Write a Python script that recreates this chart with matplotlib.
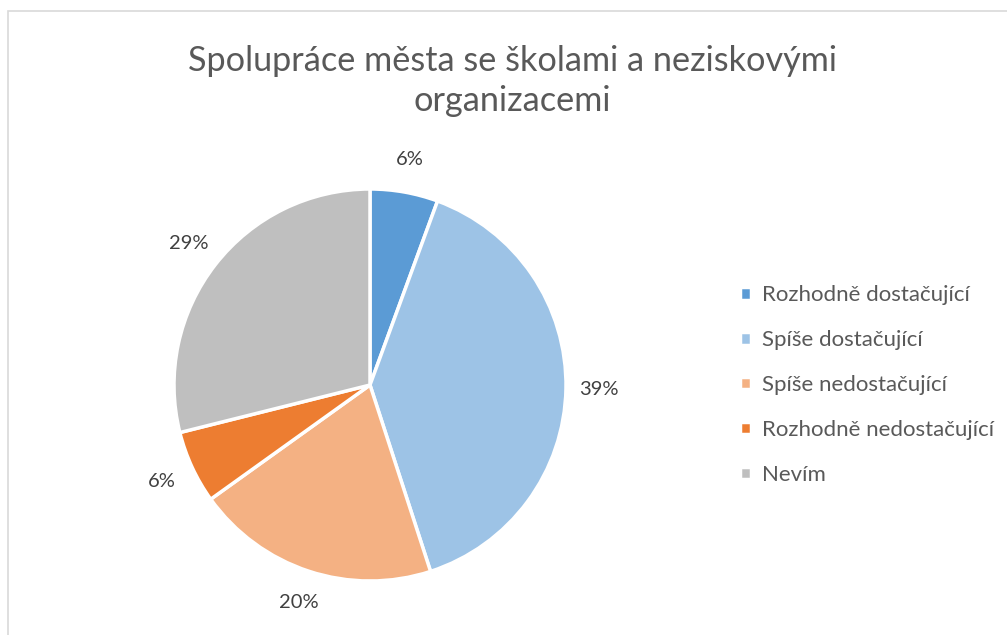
import matplotlib
matplotlib.use("Agg")
import matplotlib.pyplot as plt
from matplotlib.patches import Rectangle

categories = ["Rozhodně dostačující", "Spíše dostačující", "Spíše nedostačující",
              "Rozhodně nedostačující", "Nevím"]
values = [5.6, 39.4, 20.1, 6.0, 28.9]
colors = ["#5B9BD5", "#9DC3E6", "#F4B183", "#ED7D31", "#BFBFBF"]

plt.rcParams['font.family'] = ['Lato', 'DejaVu Sans']

W, H = 1007, 635
fig = plt.figure(figsize=(W / 100, H / 100), dpi=100)

# chart border (only top and left visible in the crop)
fig.patches.append(Rectangle((8 / W, -0.1), 1.2, (H - 11) / H + 0.1, transform=fig.transFigure,
                             fill=False, edgecolor="#D9D9D9", linewidth=1.2))

cx, cy, r = 370, 385, 196
ax = fig.add_axes([(cx - r) / W, (H - cy - r) / H, 2 * r / W, 2 * r / H])
wedges, texts, autotexts = ax.pie(values, colors=colors, startangle=90, counterclock=False,
                                  autopct=lambda p: f"{p:.0f}%", pctdistance=1.17,
                                  wedgeprops=dict(edgecolor="white", linewidth=2.5),
                                  textprops=dict(color="#404040", fontsize=14.5))
ax.set_xlim(-1, 1)
ax.set_ylim(-1, 1)

fig.text(512 / W, 1 - 61 / H, "Spolupráce města se školami a neziskovými", ha="center", va="center",
         fontsize=24.7, color="#595959")
fig.text(512 / W, 1 - 101 / H, "organizacemi", ha="center", va="center",
         fontsize=24.7, color="#595959")

leg = fig.legend(wedges, categories, loc="center left", bbox_to_anchor=(720 / W, 1 - 385 / H),
                 frameon=False, fontsize=16, labelcolor="#595959",
                 handlelength=0.5, handleheight=0.5, handletextpad=0.5, labelspacing=1.12)

fig.savefig("out.png", dpi=100)
